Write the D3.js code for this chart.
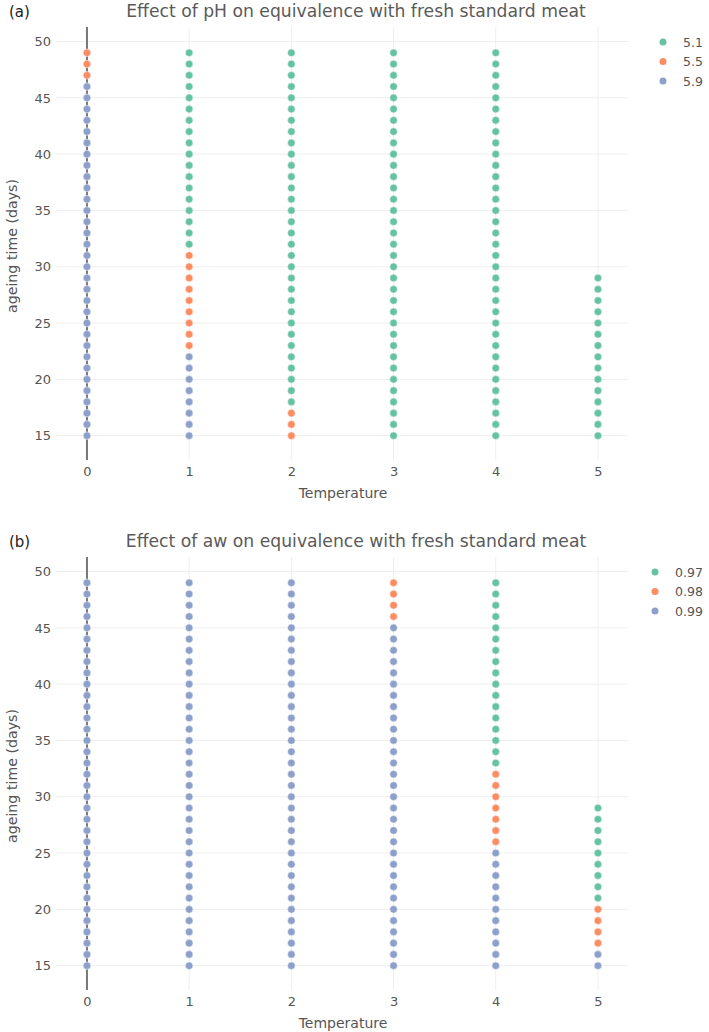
<!DOCTYPE html>
<html>
<head>
<meta charset="utf-8">
<script src="https://cdn.jsdelivr.net/npm/d3@7/dist/d3.min.js"></script>
<style>
  html, body { margin: 0; padding: 0; background: #fff; }
  svg { display: block; font-family: "DejaVu Sans", sans-serif; }
</style>
</head>
<body>
<svg id="chart" width="709" height="1032"></svg>
<script>
// ---- data ----
const temperatureTicks = [0, 1, 2, 3, 4, 5];
const ageingTicks = [15, 20, 25, 30, 35, 40, 45, 50];
// each entry: [temperature, first ageing day, last ageing day]
const ph51 = [[1, 32, 49], [2, 18, 49], [3, 15, 49], [4, 15, 49], [5, 15, 29]];
const ph55 = [[0, 47, 49], [1, 23, 31], [2, 15, 17]];
const ph59 = [[0, 15, 46], [1, 15, 22]];
const aw097 = [[4, 33, 49], [5, 21, 29]];
const aw098 = [[3, 46, 49], [4, 26, 32], [5, 17, 20]];
const aw099 = [[0, 15, 49], [1, 15, 49], [2, 15, 49], [3, 15, 45], [4, 15, 25], [5, 15, 16]];
const phLabels = ["5.1", "5.5", "5.9"];
const awLabels = ["0.97", "0.98", "0.99"];
const seriesColors = ["#66c2a5", "#fc8d62", "#8da0cb"];

function expand(ranges) {
  const pts = [];
  ranges.forEach(([t, a, b]) => { for (let d = a; d <= b; d++) pts.push([t, d]); });
  return pts;
}

const svg = d3.select("#chart");
svg.append("rect").attr("width", 709).attr("height", 1032).attr("fill", "#fff");

function panel(offsetY, tag, title, labels, seriesRanges, legendX) {
  const g = svg.append("g").attr("transform", `translate(0,${offsetY})`);
  const left = 56, right = 628, top = 27, bottom = 460;
  const x = d3.scaleLinear().domain([-0.303, 5.294]).range([left, right]);
  const y = d3.scaleLinear().domain([12.84, 51.29]).range([bottom, top]);

  // grid
  g.append("g").selectAll("line").data(ageingTicks).join("line")
    .attr("x1", left).attr("x2", right)
    .attr("y1", d => y(d)).attr("y2", d => y(d))
    .attr("stroke", "#eeeeee").attr("stroke-width", 1);
  g.append("g").selectAll("line").data(temperatureTicks.filter(d => d !== 0)).join("line")
    .attr("x1", d => x(d)).attr("x2", d => x(d))
    .attr("y1", top).attr("y2", bottom)
    .attr("stroke", "#eeeeee").attr("stroke-width", 1);
  // zero line
  g.append("line").attr("x1", x(0)).attr("x2", x(0)).attr("y1", top).attr("y2", bottom)
    .attr("stroke", "#777").attr("stroke-width", 2);

  // axes via d3 axis generators
  const yAxis = d3.axisLeft(y).tickValues(ageingTicks).tickFormat(d3.format("d")).tickSize(0).tickPadding(5);
  const ya = g.append("g").attr("transform", `translate(${left},0)`).call(yAxis);
  const xAxis = d3.axisBottom(x).tickValues(temperatureTicks).tickFormat(d3.format("d")).tickSize(0).tickPadding(7);
  const xa = g.append("g").attr("transform", `translate(0,${bottom})`).call(xAxis);
  [ya, xa].forEach(a => {
    a.select(".domain").remove();
    a.selectAll("text").attr("fill", "#555").style("font-size", "13px").style("font-family", "'DejaVu Sans', sans-serif");
  });

  // points
  seriesRanges.forEach((ranges, i) => {
    g.append("g").selectAll("circle").data(expand(ranges)).join("circle")
      .attr("cx", d => x(d[0])).attr("cy", d => y(d[1])).attr("r", 3.8)
      .attr("fill", seriesColors[i]).attr("stroke", "#fff").attr("stroke-width", 0.5);
  });

  // titles
  g.append("text").attr("x", 9).attr("y", 17).text(tag)
    .attr("fill", "#222").style("font-size", "15px");
  g.append("text").attr("x", 356).attr("y", 17).attr("text-anchor", "middle").text(title)
    .attr("fill", "#5a5a5a").style("font-size", "17.2px");
  g.append("text").attr("x", 343).attr("y", 498).attr("text-anchor", "middle")
    .text("Temperature").attr("fill", "#555").style("font-size", "14px");
  g.append("text").attr("transform", `translate(17,246) rotate(-90)`)
    .attr("text-anchor", "middle").text("ageing time (days)")
    .attr("fill", "#555").style("font-size", "14.2px");

  // legend
  const lg = g.append("g");
  labels.forEach((lab, i) => {
    const ly = 42 + i * 19.5;
    lg.append("circle").attr("cx", legendX).attr("cy", ly).attr("r", 3.5).attr("fill", seriesColors[i]);
    lg.append("text").attr("x", legendX + 20).attr("y", ly + 4.5).text(lab)
      .attr("fill", "#555").style("font-size", "12.5px");
  });
}

panel(0, "(a)", "Effect of pH on equivalence with fresh standard meat", phLabels, [ph51, ph55, ph59], 663);
panel(530, "(b)", "Effect of aw on equivalence with fresh standard meat", awLabels, [aw097, aw098, aw099], 655);
</script>
</body>
</html>
